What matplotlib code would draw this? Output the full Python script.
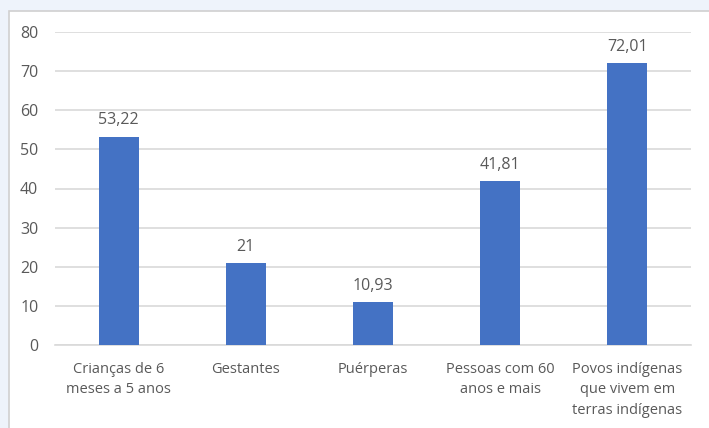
import matplotlib.pyplot as plt
from matplotlib.patches import Rectangle

# Vaccination coverage by priority group
categorias = ['Crianças de 6\nmeses a 5 anos', 'Gestantes', 'Puérperas',
              'Pessoas com 60\nanos e mais', 'Povos indígenas\nque vivem em\nterras indígenas']
valores = [53.22, 21, 10.93, 41.81, 72.01]
rotulos = ['53,22', '21', '10,93', '41,81', '72,01']

plt.rcParams['font.family'] = ['Open Sans', 'DejaVu Sans']
cinza = '#595959'

fig = plt.figure(figsize=(7.09, 4.28), dpi=100)
fig.patch.set_facecolor('#eef3fb')

# white chart panel with thin border, kept behind the axes
painel = Rectangle((9 / 709, -0.05), 1.0, 1 - 11 / 428 + 0.05, transform=fig.transFigure,
                   facecolor='white', edgecolor='#d0d0d0', linewidth=1.2, zorder=-10)
fig.patches.append(painel)

ax = fig.add_axes([55 / 709, 83 / 428, 636 / 709, 313 / 428])
ax.set_facecolor('none')

x = range(len(categorias))
ax.bar(x, valores, width=0.315, color='#4472c4', zorder=3)

for i, (v, r) in enumerate(zip(valores, rotulos)):
    ax.annotate(r, (i, v), xytext=(0, 6), textcoords='offset points',
                ha='center', va='bottom', fontsize=11.5, color=cinza)

ax.set_ylim(0, 80)
ax.set_xlim(-0.5, len(categorias) - 0.5)
ax.set_yticks(range(0, 81, 10))
ax.set_xticks(list(x))
ax.set_xticklabels(categorias, fontsize=10.5, color=cinza, linespacing=1.5)
ax.tick_params(axis='y', labelsize=11.5, labelcolor=cinza, length=0, pad=12)
ax.tick_params(axis='x', length=0, pad=12)

ax.yaxis.grid(True, color='#d9d9d9', linewidth=1.2, zorder=0)
for s in ['top', 'right', 'left']:
    ax.spines[s].set_visible(False)
ax.spines['bottom'].set_color('#d9d9d9')
ax.spines['bottom'].set_linewidth(1.2)

plt.savefig('out.png', dpi=100)
